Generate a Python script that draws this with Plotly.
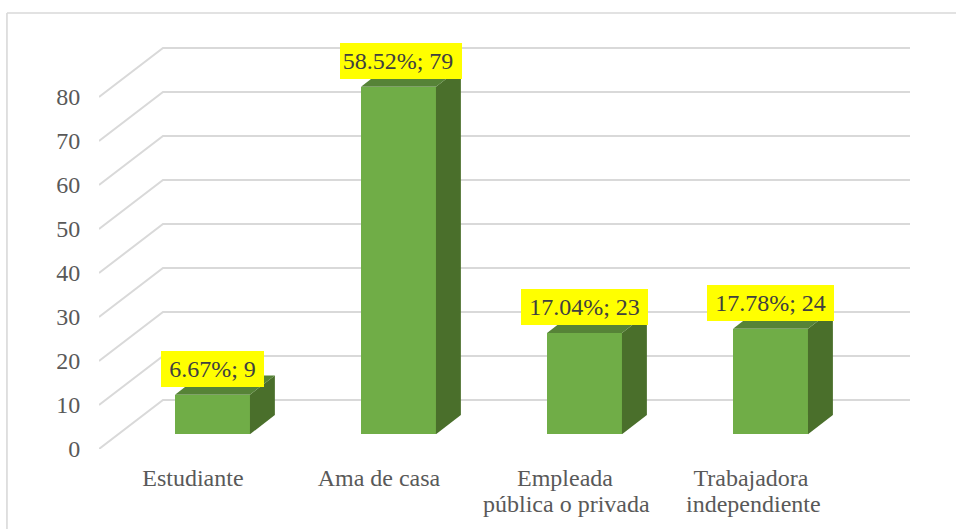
"""Occupation bar chart with a drawn 3D look (walls, side and top faces)."""

import plotly.graph_objects as go

categories = ["Estudiante", "Ama de casa", "Empleada", "Trabajadora"]
second_lines = ["", "", "pública o privada", "independiente"]
counts = [9, 79, 23, 24]
shares = ["6.67%", "58.52%", "17.04%", "17.78%"]
y_ticks = [0, 10, 20, 30, 40, 50, 60, 70, 80]

# ── Projection, in axis units ────────────────────────────────────

X_MIN, X_MAX = -0.505, 3.855
Y_MAX = 99.09
WALL_DX, WALL_DY = 0.344, 11.14
BAR_DX, BAR_DY = 0.134, 4.39
BAR_SHIFT = 0.105
BAR_WIDTH = 0.403
FLOOR = 3.34

_COLORS = {
    "grid": "#D9D9D9",
    "text": "#595959",
    "label": "#404040",
    "front": "#70AD47",
    "side": "#4A6F2B",
    "top": "#568337",
    "label_bg": "#FFFF00",
}
FONT = "Liberation Serif"
LABEL_WIDTHS = [103, 122, 127, 127]
LABEL_XSHIFTS = [0, 2.5, 0, 0.5]
LABEL_TAILS = ["", "\u00a0", "", ""]  # the 58.52% text sits left of its box centre
LINE2_XSHIFTS = [0, 0, 2, 3]

fig = go.Figure()

bar_x = [i + BAR_SHIFT for i in range(len(categories))]

fig.add_trace(
    go.Bar(
        x=bar_x,
        y=counts,
        base=FLOOR,
        width=BAR_WIDTH,
        marker=dict(color=_COLORS["front"], line_width=0),
        showlegend=False,
    )
)

# side and top faces of each bar
for cx, v in zip(bar_x, counts):
    left, right = cx - BAR_WIDTH / 2, cx + BAR_WIDTH / 2
    top = FLOOR + v
    fig.add_trace(
        go.Scatter(
            x=[right, right + BAR_DX, right + BAR_DX, right, right],
            y=[FLOOR, FLOOR + BAR_DY, top + BAR_DY, top, FLOOR],
            mode="lines",
            fill="toself",
            fillcolor=_COLORS["side"],
            line=dict(width=0, color=_COLORS["side"]),
            hoverinfo="skip",
            showlegend=False,
        )
    )
    fig.add_trace(
        go.Scatter(
            x=[left, right, right + BAR_DX, left + BAR_DX, left],
            y=[top, top, top + BAR_DY, top + BAR_DY, top],
            mode="lines",
            fill="toself",
            fillcolor=_COLORS["top"],
            line=dict(width=0, color=_COLORS["top"]),
            hoverinfo="skip",
            showlegend=False,
        )
    )

# data labels on yellow boxes
for cx, v, share, w, dx, tail in zip(
    bar_x, counts, shares, LABEL_WIDTHS, LABEL_XSHIFTS, LABEL_TAILS
):
    fig.add_annotation(
        x=cx,
        y=FLOOR + v,
        text=f"{share}; {v}{tail}",
        showarrow=False,
        xshift=dx,
        yshift=25.7,
        width=w,
        height=36,
        align="center",
        valign="middle",
        bgcolor=_COLORS["label_bg"],
        borderpad=0,
        borderwidth=0,
        font=dict(family=FONT, size=24, color=_COLORS["label"]),
    )

# wrapped category lines sit tighter than a <br> would
for i, line in enumerate(second_lines):
    if line:
        fig.add_annotation(
            x=i,
            y=0,
            xshift=LINE2_XSHIFTS[i],
            yshift=-55,
            text=line,
            showarrow=False,
            yanchor="middle",
            font=dict(family=FONT, size=24, color=_COLORS["text"]),
        )

# gridlines stay behind the bars, so they are below-layer shapes
grid_shapes = [
    dict(
        type="path",
        xref="x",
        yref="y",
        layer="below",
        path=f"M {X_MIN} {v} L {X_MIN + WALL_DX} {v + WALL_DY} L {X_MAX} {v + WALL_DY}",
        line=dict(color=_COLORS["grid"], width=2),
    )
    for v in y_ticks
]

frame_shapes = [
    dict(
        type="line",
        xref="paper",
        yref="paper",
        x0=-0.1135,
        x1=1.057,
        y0=1,
        y1=1,
        line=dict(color=_COLORS["grid"], width=1.6),
    ),
    dict(
        type="line",
        xref="paper",
        yref="paper",
        x0=-0.1135,
        x1=-0.1135,
        y0=1,
        y1=-0.1835,
        line=dict(color=_COLORS["grid"], width=1.6),
    ),
]

fig.update_layout(
    width=956,
    height=529,
    autosize=False,
    paper_bgcolor="white",
    plot_bgcolor="white",
    margin=dict(l=99, r=46, t=13, b=80, pad=0),
    bargap=0,
    showlegend=False,
    font=dict(family=FONT, size=24, color=_COLORS["text"]),
    xaxis=dict(
        range=[X_MIN, X_MAX],
        tickvals=list(range(len(categories))),
        ticktext=categories,
        ticks="outside",
        ticklen=7,
        tickcolor="rgba(0,0,0,0)",
        showgrid=False,
        zeroline=False,
        showline=False,
    ),
    yaxis=dict(
        range=[0, Y_MAX],
        tickvals=y_ticks,
        ticks="outside",
        ticklen=13,
        tickcolor="rgba(0,0,0,0)",
        showgrid=False,
        zeroline=False,
        showline=False,
    ),
    shapes=grid_shapes + frame_shapes,
)

# the page's default body margin would push the fixed-size figure off by 8px
fig.write_html(
    "out.html",
    config={"displayModeBar": False},
    post_script="document.body.style.margin = '0';",
)
